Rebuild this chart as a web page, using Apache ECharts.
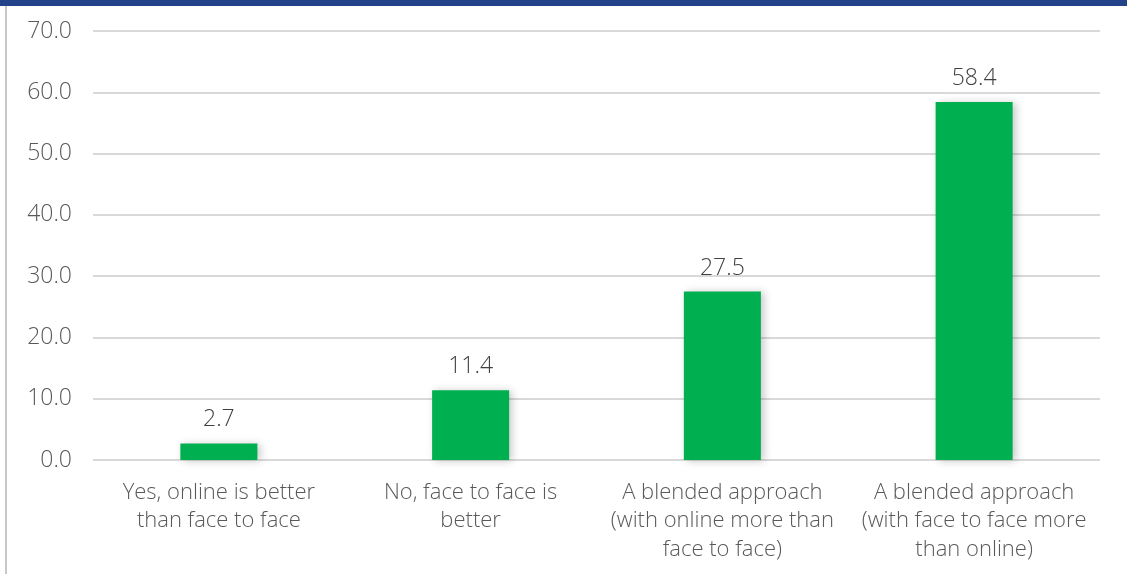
<!DOCTYPE html>
<html>
<head>
<meta charset="utf-8">
<script src="https://cdn.jsdelivr.net/npm/echarts@6/dist/echarts.min.js"></script>
<style>
  html, body { margin: 0; padding: 0; background: #ffffff; }
  #chart { width: 1127px; height: 574px; }
</style>
</head>
<body>
<div id="chart"></div>
<script>
// Survey responses: preferred mode of delivery (%)
const categories = [
  'Yes, online is better\nthan face to face',
  'No, face to face is\nbetter',
  'A blended approach\n(with online more than\nface to face)',
  'A blended approach\n(with face to face more\nthan online)'
];
const values = [2.7, 11.4, 27.5, 58.4];
const yTicks = { min: 0, max: 70, interval: 10 };

const chart = echarts.init(document.getElementById('chart'), null, { renderer: 'canvas' });

const FONT = 'Open Sans';
const WEIGHT = 300;

chart.setOption({
  backgroundColor: '#ffffff',
  animation: false,
  graphic: [
    { type: 'rect', left: 0, top: 0, shape: { width: 1127, height: 6 }, style: { fill: '#22428a' }, z: 10 },
    { type: 'rect', left: 5, top: 6, shape: { width: 2, height: 568 }, style: { fill: '#c8c8c8' }, z: 10 }
  ],
  grid: { left: 93, right: 27, top: 31, bottom: 114, containLabel: false },
  xAxis: {
    type: 'category',
    data: categories,
    axisLine: { show: false },
    axisTick: { show: false },
    axisLabel: {
      interval: 0,
      margin: 18,
      color: '#595959',
      fontFamily: FONT,
      fontWeight: WEIGHT,
      fontSize: 22,
      lineHeight: 28.5
    }
  },
  yAxis: {
    type: 'value',
    min: yTicks.min,
    max: yTicks.max,
    interval: yTicks.interval,
    axisLine: { show: false },
    axisTick: { show: false },
    splitLine: { lineStyle: { color: '#d9d9d9', width: 2 } },
    axisLabel: {
      margin: 21,
      color: '#595959',
      fontFamily: FONT,
      fontWeight: WEIGHT,
      fontSize: 23,
      formatter: v => v.toFixed(1)
    }
  },
  series: [{
    type: 'bar',
    data: values,
    barWidth: '30.6%',
    itemStyle: {
      color: '#00b050',
      shadowColor: 'rgba(0,0,0,0.22)',
      shadowBlur: 8,
      shadowOffsetX: 3,
      shadowOffsetY: 1
    },
    label: {
      show: true,
      position: 'top',
      distance: 12,
      color: '#404040',
      fontFamily: FONT,
      fontWeight: WEIGHT,
      fontSize: 23,
      formatter: p => p.value.toFixed(1)
    }
  }]
});
</script>
</body>
</html>
